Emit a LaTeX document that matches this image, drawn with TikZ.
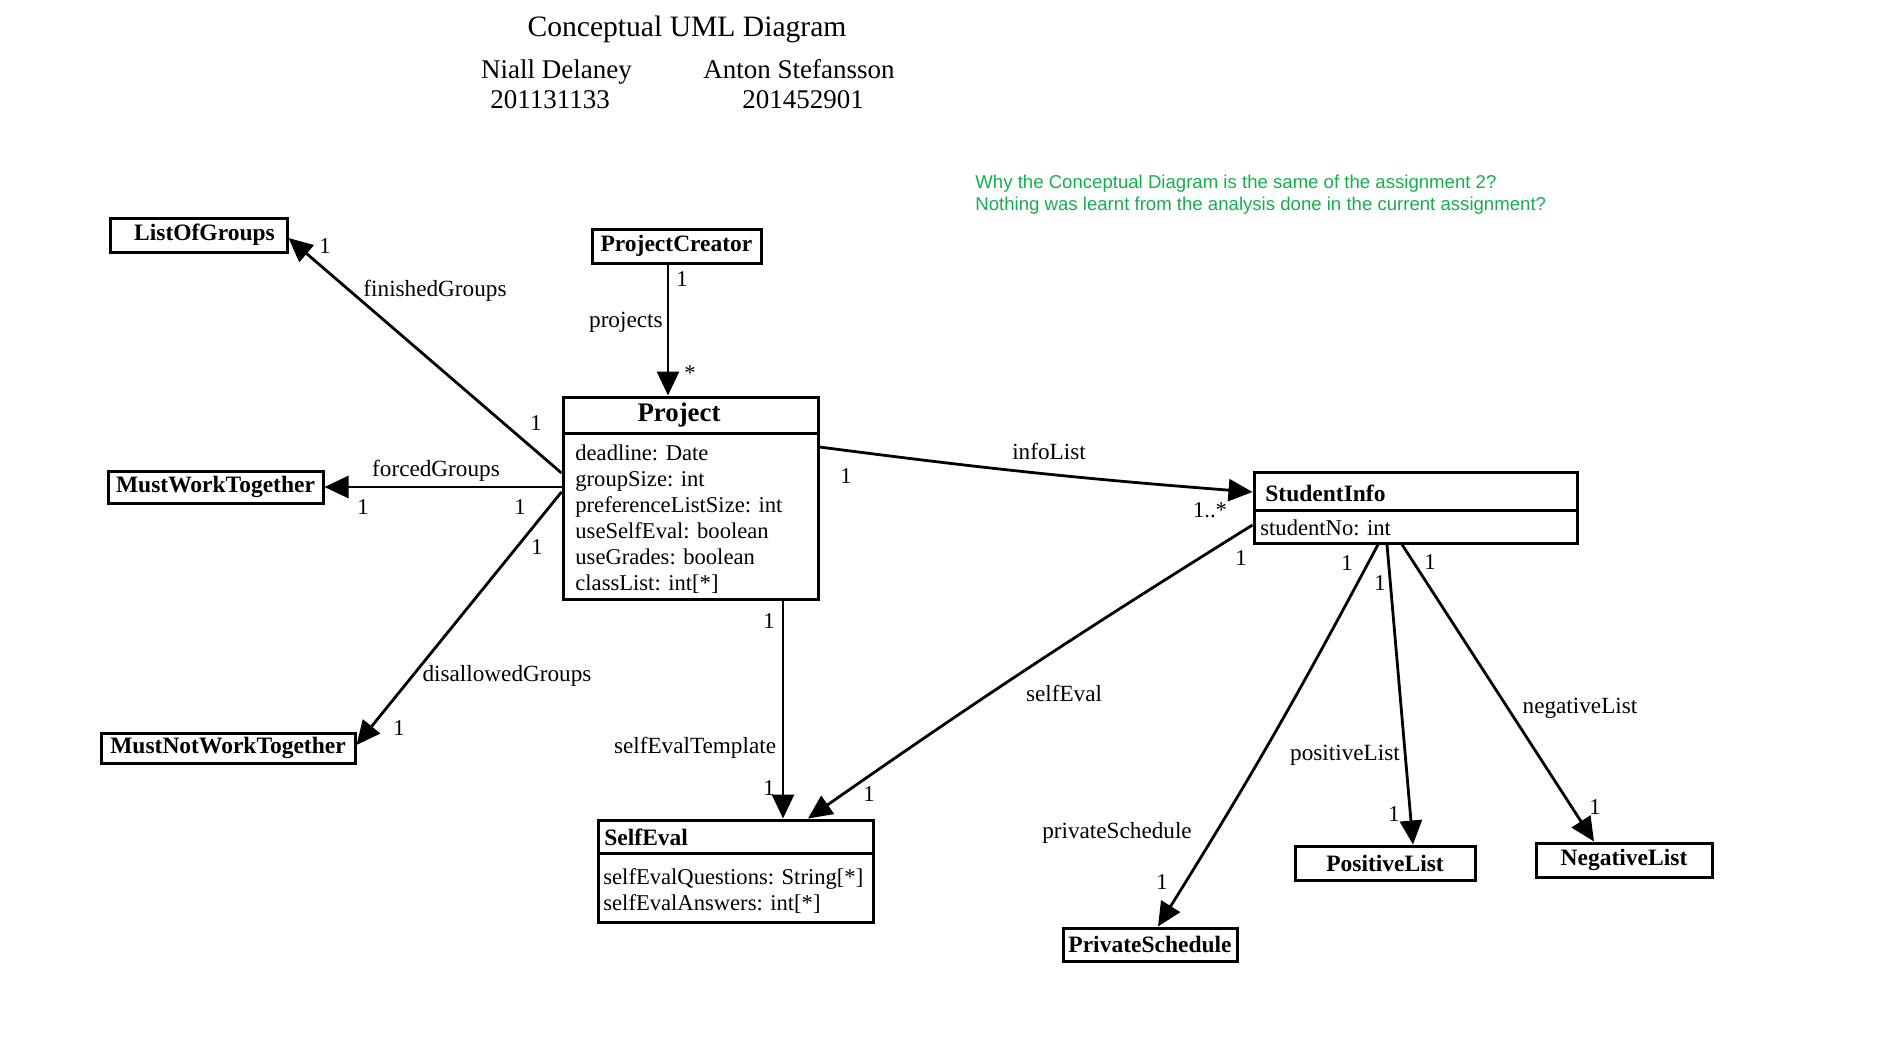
\documentclass[tikz,border=0pt]{standalone}
\usepackage{fontspec}
\setmainfont{Liberation Serif}
\newfontfamily\arialfont{Liberation Sans}
\usetikzlibrary{arrows.meta,calc}
\definecolor{notegreen}{RGB}{20,175,75}
\begin{document}
\begin{tikzpicture}[x=0.5pt,y=-0.5pt,
  cls/.style={draw,line width=1.5pt,inner sep=0pt,font=\fontsize{11.75}{13}\selectfont\bfseries},
  clsname/.style={inner sep=0pt,font=\fontsize{11.75}{13}\selectfont\bfseries},
  assoc/.style={line width=1.4pt,-{Triangle[length=12pt,width=11pt]}},
  lbl/.style={inner sep=0pt,font=\fontsize{11.6}{13}\selectfont},
  mult/.style={inner sep=0pt,font=\fontsize{11.3}{13}\selectfont},
  attr/.style={inner sep=0pt,align=left,anchor=north west,font=\fontsize{11.3}{13}\selectfont},
  head/.style={inner sep=0pt,font=\fontsize{13.5}{16}\selectfont}
]
\useasboundingbox (0,0) rectangle (1894,1054);

% header texts
\node[head,font=\fontsize{14.8}{17}\selectfont] (title) at (687,29) {Conceptual UML Diagram};
\node[head] (n1) at (556.5,72.5) {Niall Delaney};
\node[head] (id1) at (550,100) {201131133};
\node[head] (n2) at (799,69) {Anton Stefansson};
\node[head] (id2) at (803,100) {201452901};

\node[anchor=north west,inner sep=0pt,align=left,text=notegreen,
      font=\arialfont\fontsize{9.3}{11}\selectfont] (note) at (975,175)
  {Why the Conceptual Diagram is the same of the assignment 2?\\Nothing was learnt from the analysis done in the current assignment?};

% simple classes
\node[cls,minimum width=88.5pt,minimum height=17pt] (lof) at (198.5,235) {\hspace*{6pt}ListOfGroups};
\node[cls,minimum width=107.5pt,minimum height=16pt] (mwt) at (215.5,487) {MustWorkTogether};
\node[cls,minimum width=127pt,minimum height=15pt] (mnwt) at (228,748) {MustNotWorkTogether};
\node[cls,minimum width=84.5pt,minimum height=17pt] (pc) at (676.5,246) {ProjectCreator};
\node[cls,minimum width=87pt,minimum height=16.5pt] (ps) at (1150,944.5) {PrivateSchedule};
\node[cls,minimum width=90pt,minimum height=17pt] (pl) at (1385,863) {PositiveList};
\node[cls,minimum width=88pt,minimum height=17pt] (nl) at (1624,860) {NegativeList};

% Project
\node[cls,minimum width=127.5pt,minimum height=101pt] (proj) at (690.5,498) {};
\draw[line width=1.5pt] ($(proj.north west)+(0,38)$) -- ($(proj.north east)+(0,38)$);
\node[clsname,font=\fontsize{13.4}{15}\selectfont\bfseries] (projname) at (679,415) {Project};
\node[attr] (projattr) at (575,444) {deadline: Date\\groupSize: int\\preferenceListSize: int\\useSelfEval: boolean\\useGrades: boolean\\classList: int[*]};

% StudentInfo
\node[cls,minimum width=161.5pt,minimum height=35.5pt] (si) at (1415.5,507.5) {};
\draw[line width=1.5pt] ($(si.north west)+(0,40)$) -- ($(si.north east)+(0,40)$);
\node[clsname,anchor=west] (siname) at (1265,493) {StudentInfo};
\node[attr,anchor=west] (siattr) at (1260,528) {studentNo: int};

% SelfEval
\node[cls,minimum width=137.5pt,minimum height=51pt] (se) at (735.5,871) {};
\draw[line width=1.5pt] ($(se.north west)+(0,35)$) -- ($(se.north east)+(0,35)$);
\node[clsname,anchor=west] (sename) at (604,837) {SelfEval};
\node[attr] (seattr) at (603,868) {selfEvalQuestions: String[*]\\selfEvalAnswers: int[*]};

% associations
\draw[assoc] ($(proj.west)+(0,-25)$) -- ($(lof.east)+(0,3)$);
\draw[assoc] ($(proj.west)+(0,-11)$) -- (mwt.east);
\draw[assoc] ($(proj.west)+(0,-6)$) -- ($(mnwt.east)+(0,-3)$);
\draw[assoc] ($(pc.south)+(-8.5,0)$) -- ($(proj.north)+(-22.5,0)$);
\draw[assoc] ($(proj.east)+(0,-51)$) to[bend right=1.5] ($(si.west)+(0,-15.5)$);
\draw[assoc] ($(proj.south)+(92.5,0)$) -- ($(se.north)+(47.5,0)$);
\draw[assoc] ($(si.west)+(0,17.5)$) to[bend right=1.5] ($(se.north)+(72.5,0)$);
\draw[assoc] ($(si.south)+(-37.5,0)$) to[bend left=2] ($(ps.north)+(8,0)$);
\draw[assoc] ($(si.south)+(-28.5,0)$) -- ($(pl.north)+(28,0)$);
\draw[assoc] ($(si.south)+(-13.5,0)$) -- ($(nl.north)+(-30,0)$);

% association labels
\node[lbl] (l1) at (435,291) {finishedGroups};
\node[lbl] (l2) at (436,471) {forcedGroups};
\node[lbl] (l3) at (507,676) {disallowedGroups};
\node[lbl,anchor=east] (l4) at (663,322) {projects};
\node[lbl] (l5) at (695,748) {selfEvalTemplate};
\node[lbl] (l6) at (1049,451) {infoList};
\node[lbl] (l7) at (1064,693) {selfEval};
\node[lbl] (l8) at (1117,833) {privateSchedule};
\node[lbl] (l9) at (1345,755) {positiveList};
\node[lbl] (l10) at (1580,708) {negativeList};

% multiplicities
\node[mult] (m1) at (325,246) {1};
\node[mult] (m2) at (536,423) {1};
\node[mult] (m3) at (363,507) {1};
\node[mult] (m4) at (520,507) {1};
\node[mult] (m5) at (399,728) {1};
\node[mult] (m6) at (537,547) {1};
\node[mult] (m7) at (682,279) {1};
\node[mult] (m8) at (690,373) {*};
\node[mult] (m9) at (846,476) {1};
\node[mult] (m10) at (1210,510) {1..*};
\node[mult] (m11) at (769,621) {1};
\node[mult] (m12) at (769,788) {1};
\node[mult] (m13) at (1241,558) {1};
\node[mult] (m14) at (869,794) {1};
\node[mult] (m15) at (1347,563) {1};
\node[mult] (m16) at (1162,882) {1};
\node[mult] (m17) at (1380,583) {1};
\node[mult] (m18) at (1394,814) {1};
\node[mult] (m19) at (1430,562) {1};
\node[mult] (m20) at (1595,807) {1};
\end{tikzpicture}
\end{document}
